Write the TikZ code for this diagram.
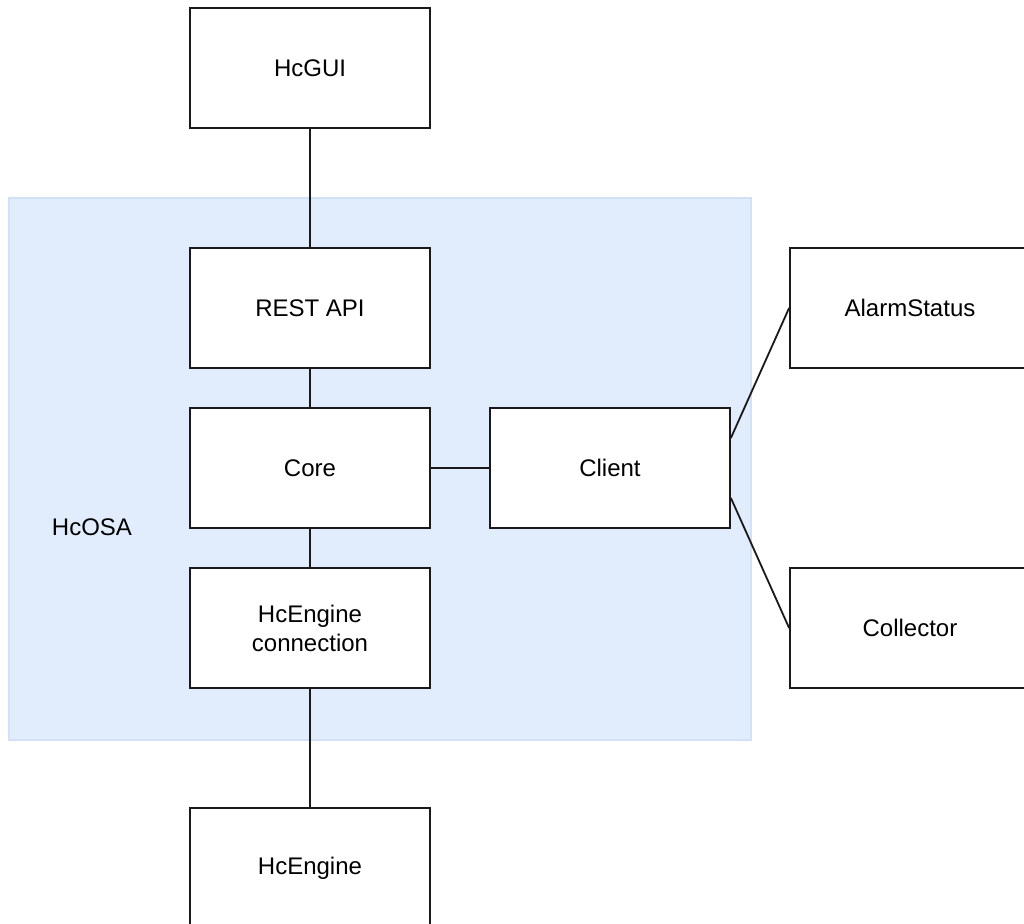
\documentclass[tikz,border=0pt]{standalone}
\usepackage{fontspec}
\setmainfont{Liberation Sans}
\definecolor{grpfill}{HTML}{E1EDFC}
\definecolor{grpline}{HTML}{D2E1F5}
\definecolor{boxline}{HTML}{1A1A1A}
\begin{document}
\begin{tikzpicture}[x=0.5pt,y=-0.5pt,
  blockbox/.style={draw=boxline,fill=white,line width=0.9pt,minimum width=120pt,minimum height=60pt,inner sep=0pt,align=center,font=\fontsize{12}{14.5}\selectfont},
  conn/.style={draw=boxline,line width=0.9pt},
  grp/.style={fill=grpfill,draw=grpline,line width=0.6pt}]
\path[use as bounding box,clip] (0,0) rectangle (1024,924);
\fill[white] (0,0) rectangle (1024,924);
\draw[grp] (9,198) rectangle (751,740);
\node[font=\fontsize{12}{14.5}\selectfont] (hcosa) at (92,527) {HcOSA};
\node[blockbox] (gui) at (310,68) {HcGUI};
\node[blockbox] (rest) at (310,308) {REST API};
\node[blockbox] (core) at (310,468) {Core};
\node[blockbox] (client) at (610,468) {Client};
\node[blockbox] (conn) at (310,628) {HcEngine\\connection};
\node[blockbox] (engine) at (310,868) {HcEngine};
\node[blockbox] (alarm) at (910,308) {AlarmStatus};
\node[blockbox] (coll) at (910,628) {Collector};
\draw[conn] (gui.south) -- (rest.north);
\draw[conn] (rest.south) -- (core.north);
\draw[conn] (core.south) -- (conn.north);
\draw[conn] (conn.south) -- (engine.north);
\draw[conn] (core.east) -- (client.west);
\draw[conn] ([yshift=15pt]client.east) -- (alarm.west);
\draw[conn] ([yshift=-15pt]client.east) -- (coll.west);
\end{tikzpicture}
\end{document}
